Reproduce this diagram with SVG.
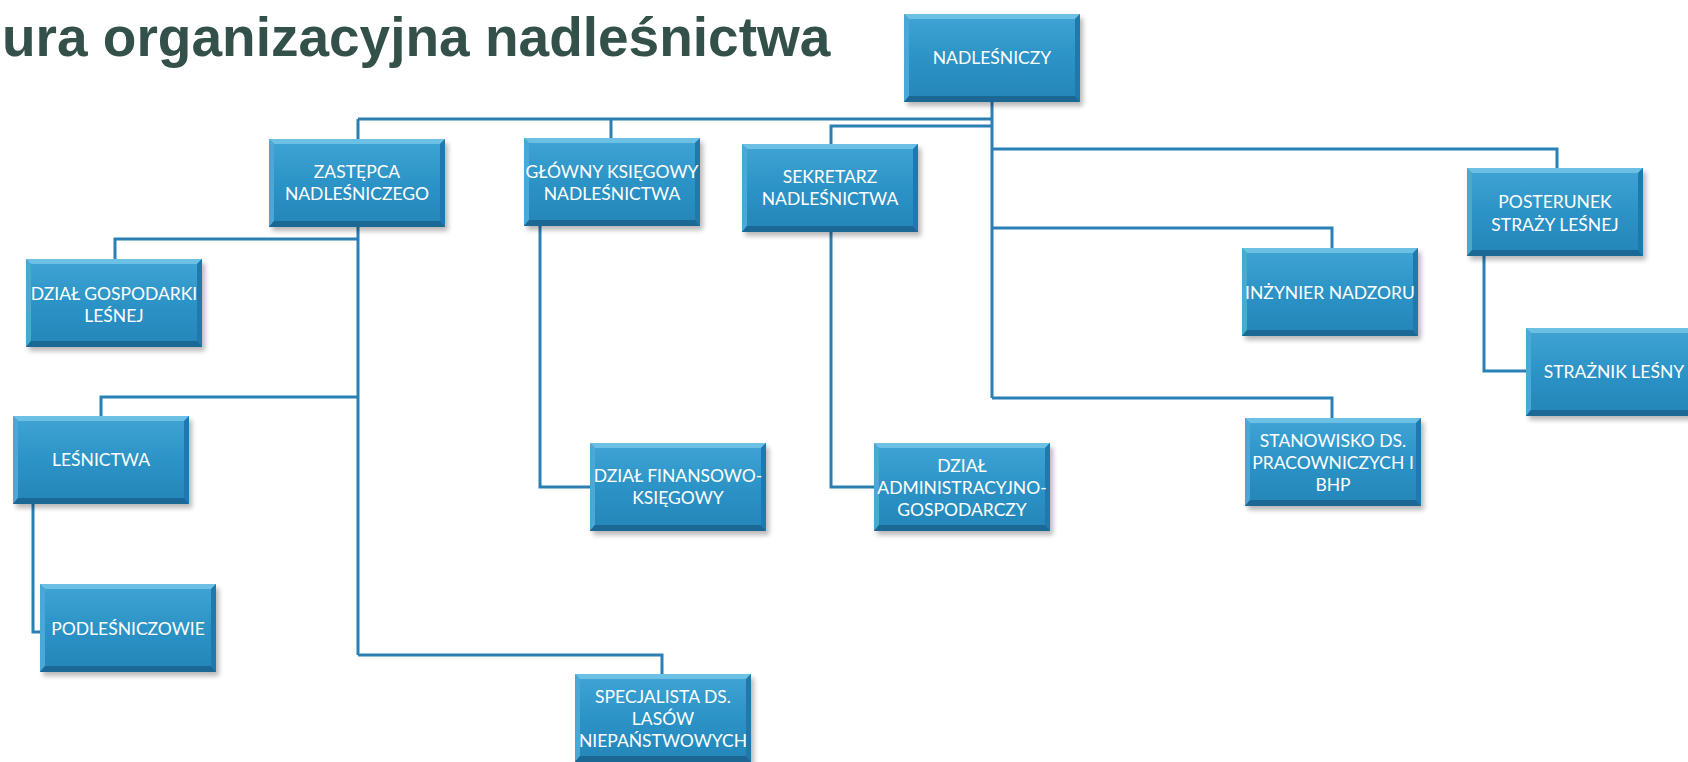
<svg xmlns="http://www.w3.org/2000/svg" xmlns:xlink="http://www.w3.org/1999/xlink" width="1688" height="762" viewBox="0 0 1688 762">
<style>
.t{font-family:Lato,"Liberation Sans",sans-serif;font-size:17.5px;fill:#ffffff;text-anchor:middle}
.title{font-family:"Liberation Sans",Arial,sans-serif;font-size:55px;font-weight:bold;fill:#34504a}
.c{fill:none;stroke:#2a7fb3;stroke-width:3;stroke-linejoin:miter}
</style>
<defs>
<linearGradient id="gf" x1="0" y1="0" x2="0" y2="1">
<stop offset="0" stop-color="#40a5d5"/>
<stop offset="0.5" stop-color="#2c93c6"/>
<stop offset="1" stop-color="#2485b8"/>
</linearGradient>
<filter id="sh" x="-10%" y="-10%" width="130%" height="140%">
<feGaussianBlur stdDeviation="2.5"/>
</filter>
<g id="box">
<rect x="3" y="4" width="176" height="88" fill="#000" opacity="0.28" filter="url(#sh)"/>
<rect x="0" y="0" width="176" height="88" fill="url(#gf)"/>
<polygon points="0,0 176,0 171,5 5,5" fill="#6cc0e4"/>
<polygon points="0,0 5,5 5,82 0,88" fill="#4aa8d6"/>
<polygon points="0,88 5,82 171,82 176,88" fill="#1a6893"/>
<polygon points="176,0 171,5 171,82 176,88" fill="#1f79aa"/>
</g>
</defs>
<rect width="1688" height="762" fill="#ffffff"/>
<text class="title" x="2" y="56">ura organizacyjna nadleśnictwa</text>
<g id="connectors">
<path class="c" d="M992,102 V398"/>
<path class="c" d="M358,119 H992"/>
<path class="c" d="M358,119 V139"/>
<path class="c" d="M611,119 V138"/>
<path class="c" d="M992,126 H831 V144"/>
<path class="c" d="M992,149 H1557 V168"/>
<path class="c" d="M992,228 H1332 V248"/>
<path class="c" d="M992,398 H1332 V418"/>
<path class="c" d="M358,227 V655"/>
<path class="c" d="M358,239 H115 V259"/>
<path class="c" d="M358,397 H101 V416"/>
<path class="c" d="M358,655 H662 V674"/>
<path class="c" d="M33,504 V632 H40"/>
<path class="c" d="M540,226 V487 H590"/>
<path class="c" d="M831,232 V487 H874"/>
<path class="c" d="M1484,256 V371 H1526"/>
</g>
<g id="n-nadlesniczy"><use href="#box" x="904" y="14"/><text class="t" x="992" y="64">NADLEŚNICZY</text></g>
<g id="n-zastepca"><use href="#box" x="269" y="139"/><text class="t" x="357" y="178">ZASTĘPCA</text><text class="t" x="357" y="200">NADLEŚNICZEGO</text></g>
<g id="n-glowny"><use href="#box" x="524" y="138"/><text class="t" x="612" y="178">GŁÓWNY KSIĘGOWY</text><text class="t" x="612" y="200">NADLEŚNICTWA</text></g>
<g id="n-sekretarz"><use href="#box" x="742" y="144"/><text class="t" x="830" y="183">SEKRETARZ</text><text class="t" x="830" y="205">NADLEŚNICTWA</text></g>
<g id="n-posterunek"><use href="#box" x="1467" y="168"/><text class="t" x="1555" y="208">POSTERUNEK</text><text class="t" x="1555" y="231">STRAŻY LEŚNEJ</text></g>
<g id="n-inzynier"><use href="#box" x="1242" y="248"/><text class="t" x="1330" y="299">INŻYNIER NADZORU</text></g>
<g id="n-straznik"><use href="#box" x="1526" y="328"/><text class="t" x="1614" y="378">STRAŻNIK LEŚNY</text></g>
<g id="n-stanowisko"><use href="#box" x="1245" y="418"/><text class="t" x="1333" y="447">STANOWISKO DS.</text><text class="t" x="1333" y="469">PRACOWNICZYCH I</text><text class="t" x="1333" y="491">BHP</text></g>
<g id="n-dzial-gosp"><use href="#box" x="26" y="259"/><text class="t" x="114" y="300">DZIAŁ GOSPODARKI</text><text class="t" x="114" y="322">LEŚNEJ</text></g>
<g id="n-lesnictwa"><use href="#box" x="13" y="416"/><text class="t" x="101" y="466">LEŚNICTWA</text></g>
<g id="n-podlesniczowie"><use href="#box" x="40" y="584"/><text class="t" x="128" y="635">PODLEŚNICZOWIE</text></g>
<g id="n-dzial-fin"><use href="#box" x="590" y="443"/><text class="t" x="678" y="482">DZIAŁ FINANSOWO-</text><text class="t" x="678" y="504">KSIĘGOWY</text></g>
<g id="n-dzial-admin"><use href="#box" x="874" y="443"/><text class="t" x="962" y="472">DZIAŁ</text><text class="t" x="962" y="494">ADMINISTRACYJNO-</text><text class="t" x="962" y="516">GOSPODARCZY</text></g>
<g id="n-specjalista"><use href="#box" x="575" y="674"/><text class="t" x="663" y="703">SPECJALISTA DS.</text><text class="t" x="663" y="725">LASÓW</text><text class="t" x="663" y="747">NIEPAŃSTWOWYCH</text></g>
</svg>
